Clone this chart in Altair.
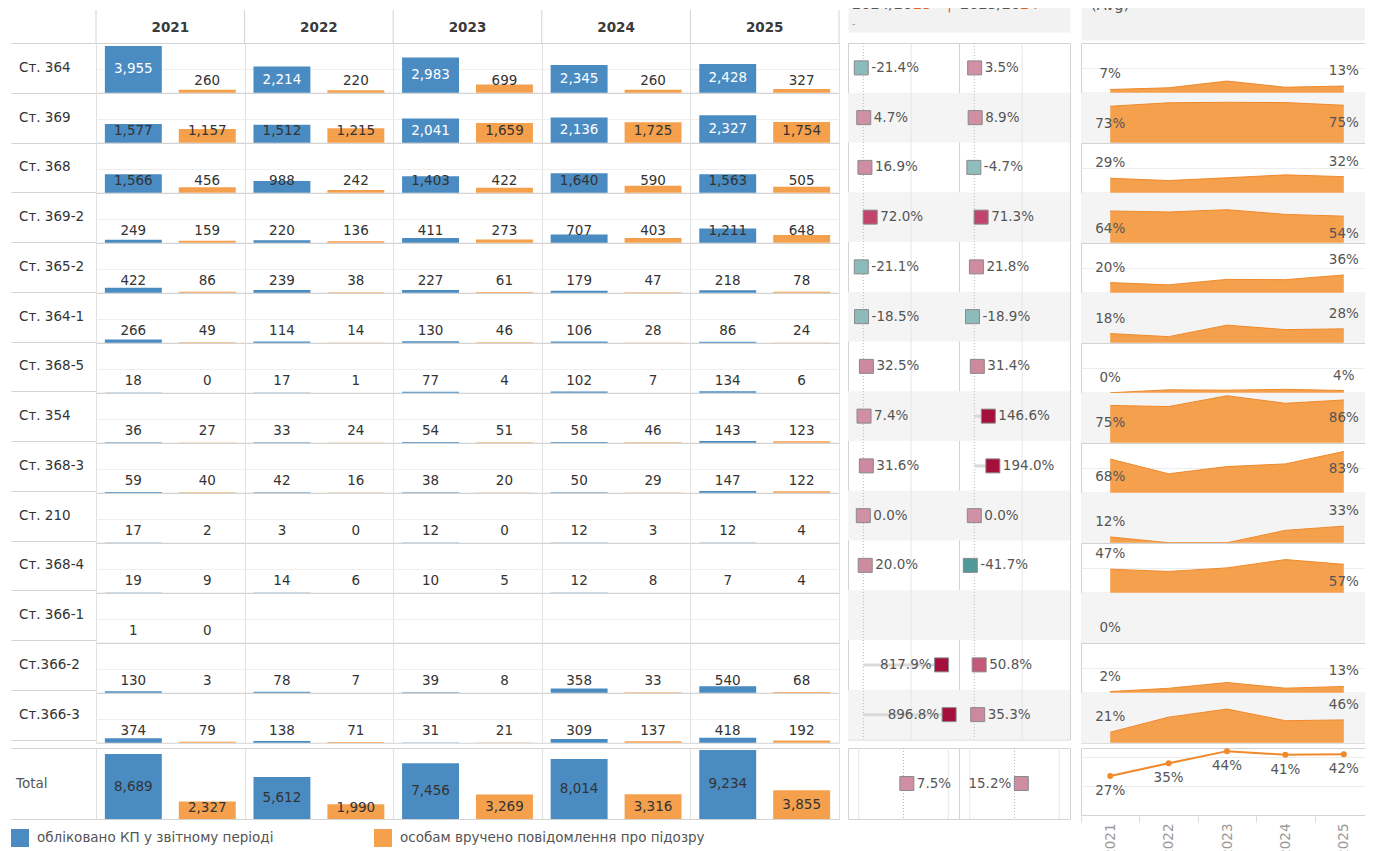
import altair as alt
import pandas as pd

# ---------------- data ----------------
rows = ["Ст. 364", "Ст. 369", "Ст. 368", "Ст. 369-2", "Ст. 365-2", "Ст. 364-1", "Ст. 368-5",
        "Ст. 354", "Ст. 368-3", "Ст. 210", "Ст. 368-4", "Ст. 366-1", "Ст.366-2", "Ст.366-3"]
years = ["2021", "2022", "2023", "2024", "2025"]
measures = ["обліковано КП у звітному періоді", "особам вручено повідомлення про підозру"]

registered = [
    [3955, 2214, 2983, 2345, 2428],
    [1577, 1512, 2041, 2136, 2327],
    [1566, 988, 1403, 1640, 1563],
    [249, 220, 411, 707, 1211],
    [422, 239, 227, 179, 218],
    [266, 114, 130, 106, 86],
    [18, 17, 77, 102, 134],
    [36, 33, 54, 58, 143],
    [59, 42, 38, 50, 147],
    [17, 3, 12, 12, 12],
    [19, 14, 10, 12, 7],
    [1, None, None, None, None],
    [130, 78, 39, 358, 540],
    [374, 138, 31, 309, 418],
]
suspected = [
    [260, 220, 699, 260, 327],
    [1157, 1215, 1659, 1725, 1754],
    [456, 242, 422, 590, 505],
    [159, 136, 273, 403, 648],
    [86, 38, 61, 47, 78],
    [49, 14, 46, 28, 24],
    [0, 1, 4, 7, 6],
    [27, 24, 51, 46, 123],
    [40, 16, 20, 29, 122],
    [2, 0, 0, 3, 4],
    [9, 6, 5, 8, 4],
    [0, None, None, None, None],
    [3, 7, 8, 33, 68],
    [79, 71, 21, 137, 192],
]
total_registered = [8689, 5612, 7456, 8014, 9234]
total_suspected = [2327, 1990, 3269, 3316, 3855]

periods = ["2024/2023", "2025/2024"]
change_24_23 = [-0.214, 0.047, 0.169, 0.720, -0.211, -0.185, 0.325, 0.074, 0.316, 0.000, 0.200, None, 8.179, 8.968]
change_25_24 = [0.035, 0.089, -0.047, 0.713, 0.218, -0.189, 0.314, 1.466, 1.940, 0.000, -0.417, None, 0.508, 0.353]
total_change = [0.075, 0.152]

# ---------------- tables built from the arrays ----------------
bar_recs, ratio_recs = [], []
for i, art in enumerate(rows):
    for j, yr in enumerate(years):
        r, s = registered[i][j], suspected[i][j]
        if r is not None:
            bar_recs.append({"article": art, "idx": i, "year": yr, "measure": measures[0], "v": r})
            bar_recs.append({"article": art, "idx": i, "year": yr, "measure": measures[1], "v": s})
            ratio_recs.append({"article": art, "idx": i, "year": yr, "ratio": s / r})
bars_df = pd.DataFrame(bar_recs)
ratio_df = pd.DataFrame(ratio_recs)

total_df = pd.DataFrame(
    [{"year": y, "measure": measures[0], "v": total_registered[k]} for k, y in enumerate(years)]
    + [{"year": y, "measure": measures[1], "v": total_suspected[k]} for k, y in enumerate(years)])
total_ratio_df = pd.DataFrame({"year": years,
                               "ratio": [s / r for s, r in zip(total_suspected, total_registered)]})

chg_recs = []
for i, art in enumerate(rows):
    chg_recs.append({"article": art, "idx": i, "period": periods[0], "val": change_24_23[i]})
    chg_recs.append({"article": art, "idx": i, "period": periods[1], "val": change_25_24[i]})
change_df = pd.DataFrame(chg_recs)
total_change_df = pd.DataFrame({"row": ["Total", "Total"], "idx": [0, 0], "period": periods, "val": total_change})

# ---------------- style ----------------
FONT = "DejaVu Sans"
FS = 13.5
BLUE = "#4a8bc2"
ORANGE = "#f4a04d"
ORANGE_LINE = "#f0892b"
LINE = "#d3d3d3"
BAND = "#f4f4f4"
HEAD = "#f2f2f2"
TXT = "#333333"
TXT2 = "#555555"
NOSTROKE = alt.ViewBackground(stroke="transparent")

W_LAB, W_TAB = 85, 743
ROW_H = 49.75
H_BODY = ROW_H * len(rows)
H_TOT = 71
W_MID = 111
W_SP = 292

one = pd.DataFrame({"t": [""]})


def blank(w, h):
    return alt.Chart(one).mark_point(size=0, opacity=0, strokeWidth=0).encode(
        x=alt.value(0), y=alt.value(0)).properties(width=w, height=h, view=NOSTROKE)


def strip_layer():
    return alt.Chart(one).mark_rect(color=HEAD).encode(
        x=alt.value(0), x2=alt.value("width"), y=alt.value(0), y2=alt.value(5))


def pct_text(field):
    return f"replace(format({field}, '.1%'), '\u2212', '-')"


color_scale = alt.Scale(domain=measures, range=[BLUE, ORANGE])
year_band = alt.Scale(type="band", domain=years, paddingInner=0, paddingOuter=0)
offset_scale = alt.Scale(domain=measures, paddingInner=0.23, paddingOuter=0.12)
no_axis_grid = dict(labels=False, ticks=False, domain=False, title=None)

# ---------------- left: headers ----------------
hdr_labels = alt.layer(strip_layer()).properties(width=W_LAB, height=43, view=NOSTROKE)

yr_df = pd.DataFrame({"year": years})
yr_x_start = alt.X("year:N", sort=years, scale=year_band, bandPosition=0, axis=None)
year_header = alt.layer(
    strip_layer(),
    alt.Chart(yr_df).mark_rule(color=LINE).encode(x=yr_x_start, y=alt.value(10), y2=alt.value(43)),
    alt.Chart(yr_df).transform_filter("datum.year == '2025'").mark_rule(color=LINE).encode(
        x=alt.X("year:N", sort=years, scale=year_band, bandPosition=1, axis=None),
        y=alt.value(10), y2=alt.value(43)),
    alt.Chart(yr_df).mark_text(fontSize=FS, fontWeight="bold", color="#3a3a3a", baseline="middle").encode(
        x=alt.X("year:N", sort=years, scale=year_band, bandPosition=0.5, axis=None),
        y=alt.value(28), text="year:N"),
).properties(width=W_TAB, height=43, view=NOSTROKE)

# ---------------- left: body ----------------
row_band = alt.Scale(type="band", domain=rows, paddingInner=0, paddingOuter=0)
row_labels = alt.Chart(pd.DataFrame({"article": rows})).mark_text(
    align="left", baseline="middle", fontSize=FS, color=TXT).encode(
    y=alt.Y("article:N", sort=rows, scale=row_band, bandPosition=0.5,
            axis=alt.Axis(grid=True, tickBand="extent", gridColor=LINE, **no_axis_grid)),
    x=alt.value(8),
    text="article:N",
).properties(width=W_LAB, height=H_BODY, view=NOSTROKE)


def table_layers(ymax, clamp, grid_vals, label_rule):
    x_enc = alt.X("year:N", sort=years, scale=year_band,
                  axis=alt.Axis(grid=True, tickBand="extent", gridColor="#e1e1e1", **no_axis_grid))
    xo = alt.XOffset("measure:N", sort=measures, scale=offset_scale)
    ysc = alt.Scale(domain=[0, ymax], nice=False)
    y_axis = alt.Axis(values=grid_vals, grid=True, gridColor="#efefef", **no_axis_grid) if grid_vals else None
    bars = alt.Chart().mark_bar().encode(
        x=x_enc, xOffset=xo,
        y=alt.Y("v:Q", scale=ysc, axis=y_axis),
        color=alt.Color("measure:N", scale=color_scale, legend=None),
    )
    labels = alt.Chart().transform_calculate(lab=f"max(datum.v / 2, {clamp})").mark_text(
        fontSize=FS, baseline="middle").encode(
        x=x_enc, xOffset=xo,
        y=alt.Y("lab:Q", scale=ysc),
        text=alt.Text("v:Q", format=","),
        color=alt.condition(label_rule, alt.value("white"), alt.value(TXT)),
    )
    return bars, labels


b_bars, b_labels = table_layers(4200, 1014, [2000], "datum.v >= 2000")
table_body = alt.layer(b_bars, b_labels, data=bars_df).properties(
    width=W_TAB, height=ROW_H).facet(
    row=alt.Row("article:N", sort=rows, header=None), spacing=0, bounds="flush")

# ---------------- left: total ----------------
total_label = alt.Chart(pd.DataFrame({"row": ["Total"]})).mark_text(
    align="left", baseline="middle", fontSize=FS, color=TXT2).encode(
    y=alt.Y("row:N", scale=alt.Scale(type="band", paddingInner=0, paddingOuter=0), bandPosition=0.5,
            axis=alt.Axis(grid=True, tickBand="extent", gridColor=LINE, **no_axis_grid)),
    x=alt.value(5),
    text="row:N",
).properties(width=W_LAB, height=H_TOT, view=NOSTROKE)

t_bars, t_labels = table_layers(9500, 1470, None, "false")
total_table = alt.layer(t_bars, t_labels, data=total_df).properties(width=W_TAB, height=H_TOT)

# ---------------- left: legend (drawn from the first grid column, overflowing right) ----------------
leg_x = alt.X("measure:N", sort=measures,
              scale=alt.Scale(type="band", domain=measures, range=[0, 726], paddingInner=0, paddingOuter=0),
              bandPosition=0, axis=None)
legend = alt.layer(
    alt.Chart().mark_square(size=324, opacity=1, xOffset=9).encode(
        x=leg_x, y=alt.value(11), color=alt.Color("measure:N", scale=color_scale, legend=None)),
    alt.Chart().mark_text(align="left", baseline="middle", dx=26, fontSize=FS, color=TXT2).encode(
        x=leg_x, y=alt.value(11), text="measure:N"),
    data=pd.DataFrame({"measure": measures}),
).properties(width=W_LAB, height=22, view=NOSTROKE)

# ---------------- middle: change panel ----------------
chg_colors = alt.Scale(domain=[-0.42, -0.3, -0.0001, 0, 0.36, 0.51, 0.72, 1.4],
                       range=["#4f9897", "#88b9b8", "#92bfbe", "#d191a5", "#cd889e", "#c4577a", "#c0446b", "#a50f3c"],
                       clamp=True)


def change_layers(domain, grid_vals, y_pt, y_band, left_rule):
    xs = alt.Scale(domain=domain, nice=False, zero=False)
    layers = []
    if y_band is not None:
        layers.append(alt.Chart().transform_filter("datum.idx % 2 == 1").mark_rect(color=BAND).encode(
            y=y_band, x=alt.value(0), x2=alt.value("width")))
    first = alt.Chart().transform_filter("datum.idx == 0")
    for g in grid_vals:
        layers.append(first.transform_calculate(g=str(g)).mark_rule(color="#e6e6e6", strokeWidth=1).encode(
            x=alt.X("g:Q", scale=xs, axis=None)))
    layers.append(first.transform_calculate(z0="0").mark_rule(
        color="#b8b8b8", strokeWidth=1, strokeDash=[1, 2]).encode(x=alt.X("z0:Q", scale=xs, axis=None)))
    valid = alt.Chart().transform_filter("isValid(datum.val)")
    layers.append(valid.transform_calculate(z="0").mark_rule(color="#d9d9d9", strokeWidth=3).encode(
        x=alt.X("z:Q", scale=xs, axis=None), x2="val:Q", y=y_pt))
    layers.append(valid.mark_square(size=196, opacity=1, stroke="#8a8a8a", strokeWidth=1).encode(
        x=alt.X("val:Q", scale=xs, axis=None), y=y_pt,
        color=alt.Color("val:Q", scale=chg_colors, legend=None)))
    lbl = valid.transform_calculate(lbl=pct_text("datum.val"))
    layers.append(lbl.transform_filter(f"!({left_rule})").mark_text(
        align="left", baseline="middle", dx=10, fontSize=FS, color=TXT2).encode(
        x=alt.X("val:Q", scale=xs, axis=None), y=y_pt, text="lbl:N"))
    layers.append(lbl.transform_filter(left_rule).mark_text(
        align="right", baseline="middle", dx=-10, fontSize=FS, color=TXT2).encode(
        x=alt.X("val:Q", scale=xs, axis=None), y=y_pt, text="lbl:N"))
    return layers


y_chg_pt = alt.Y("article:N", sort=rows, scale=row_band, bandPosition=0.5, axis=None)
y_chg_band = alt.Y("article:N", sort=rows, scale=row_band, axis=None)
mid_body = alt.layer(*change_layers([-1.6, 10.0], [5], y_chg_pt, y_chg_band, "datum.val > 5"),
                     data=change_df).properties(width=W_MID, height=H_BODY).facet(
    column=alt.Column("period:N", sort=periods, header=None), spacing=0, bounds="flush")

y_tot_pt = alt.Y("row:N", scale=alt.Scale(type="band", paddingInner=0, paddingOuter=0), bandPosition=0.5, axis=None)
mid_total = alt.layer(*change_layers([-1.24, 1.24], [-1, 1], y_tot_pt, None, "datum.period == '2025/2024'"),
                      data=total_change_df).properties(width=W_MID, height=H_TOT).facet(
    column=alt.Column("period:N", sort=periods, header=None), spacing=0, bounds="flush")


def head_text(txt, x, y, color=TXT2, size=14.5):
    return alt.Chart(one).mark_text(text=txt, align="left", fontSize=size, color=color, clip=True).encode(
        x=alt.value(x), y=alt.value(y))


ACC = "#e0622b"
mid_header = alt.layer(
    head_text("2024/20", 4, 5), head_text("23", 65, 5, ACC), head_text("|", 99, 5, ACC),
    head_text("2025/20", 112, 5), head_text("24", 172, 5, ACC), head_text("-", 4, 24, "#888", 9),
).properties(width=2 * W_MID, height=32, view=alt.ViewBackground(stroke="transparent", fill=HEAD))

# ---------------- right: sparkline panel ----------------
x_sp = alt.X("year:N", sort=years, scale=year_band, bandPosition=0.5, axis=None)
y_sp_scale = alt.Scale(domain=[0, 1], nice=False)
sp_band = alt.Chart().transform_filter("datum.idx % 2 == 1 && datum.year == '2021'").mark_rect(
    color=BAND).encode(x=alt.value(0), x2=alt.value("width"), y=alt.value(0), y2=alt.value("height"))
sp_area = alt.Chart().mark_area(color=ORANGE, opacity=1,
                                line=alt.OverlayMarkDef(color=ORANGE_LINE, strokeWidth=1)).encode(
    x=x_sp,
    y=alt.Y("ratio:Q", scale=y_sp_scale,
            axis=alt.Axis(values=[0.5], grid=True, gridColor="#ededed", **no_axis_grid)))
ends = "(datum.year == '2021' || datum.year == '2025')"
sp_lab_up = alt.Chart().transform_filter(f"{ends} && datum.ratio < 0.5").mark_text(
    fontSize=FS, color=TXT2, baseline="middle", dy=-15).encode(
    x=x_sp, y=alt.Y("ratio:Q", scale=y_sp_scale), text=alt.Text("ratio:Q", format=".0%"))
sp_lab_dn = alt.Chart().transform_filter(f"{ends} && datum.ratio >= 0.5").mark_text(
    fontSize=FS, color=TXT2, baseline="middle", dy=18).encode(
    x=x_sp, y=alt.Y("ratio:Q", scale=y_sp_scale), text=alt.Text("ratio:Q", format=".0%"))
sp_body = alt.layer(sp_band, sp_area, sp_lab_up, sp_lab_dn, data=ratio_df).properties(
    width=W_SP, height=ROW_H).facet(row=alt.Row("article:N", sort=rows, header=None), spacing=0, bounds="flush")

x_spt = alt.X("year:N", sort=years, scale=year_band, bandPosition=0.5,
              axis=alt.Axis(tickBand="extent", labelAngle=-90, labelColor="#9a9a9a", labelFontSize=FS,
                            tickColor="#dddddd", tickSize=7, domain=False, title=None, labelPadding=1, grid=False))
y_spt_scale = alt.Scale(domain=[0, 0.46], nice=False)
sp_total = alt.layer(
    alt.Chart().mark_line(color=ORANGE_LINE, strokeWidth=2,
                          point=alt.OverlayMarkDef(color=ORANGE_LINE, size=36, filled=True)).encode(
        x=x_spt,
        y=alt.Y("ratio:Q", scale=y_spt_scale,
                axis=alt.Axis(values=[0.2, 0.4], grid=True, gridColor="#ededed", **no_axis_grid))),
    alt.Chart().mark_text(fontSize=FS, color=TXT2, baseline="middle", dy=15).encode(
        x=x_spt, y=alt.Y("ratio:Q", scale=y_spt_scale), text=alt.Text("ratio:Q", format=".0%")),
    data=total_ratio_df,
).properties(width=W_SP, height=67)

right_header = alt.layer(head_text("(Avg)", 10, 6)).properties(
    width=W_SP, height=40, view=alt.ViewBackground(stroke="transparent", fill=HEAD))

# ---------------- assemble: one flat grid (6 columns) ----------------
cells = [
    # header row
    hdr_labels, year_header, blank(9, 1), mid_header, blank(11, 1), right_header,
    # body row
    row_labels, table_body, blank(1, 1), mid_body, blank(1, 1), sp_body,
    # gap
    blank(1, 8), blank(1, 1), blank(1, 1), blank(1, 1), blank(1, 1), blank(1, 1),
    # total row
    total_label, total_table, blank(1, 1), mid_total, blank(1, 1), sp_total,
    # gap
    blank(1, 8), blank(1, 1), blank(1, 1), blank(1, 1), blank(1, 1), blank(1, 1),
    # legend row
    legend, blank(1, 1), blank(1, 1), blank(1, 1), blank(1, 1), blank(1, 1),
]

chart = alt.concat(*cells, columns=6, spacing=0, bounds="flush", align="each").properties(
    padding={"left": 2, "top": -9, "right": -9, "bottom": 0}
).configure(font=FONT).configure_view(stroke=LINE, strokeWidth=1)

chart.save("out.html", embed_options={"renderer": "svg", "actions": False})
